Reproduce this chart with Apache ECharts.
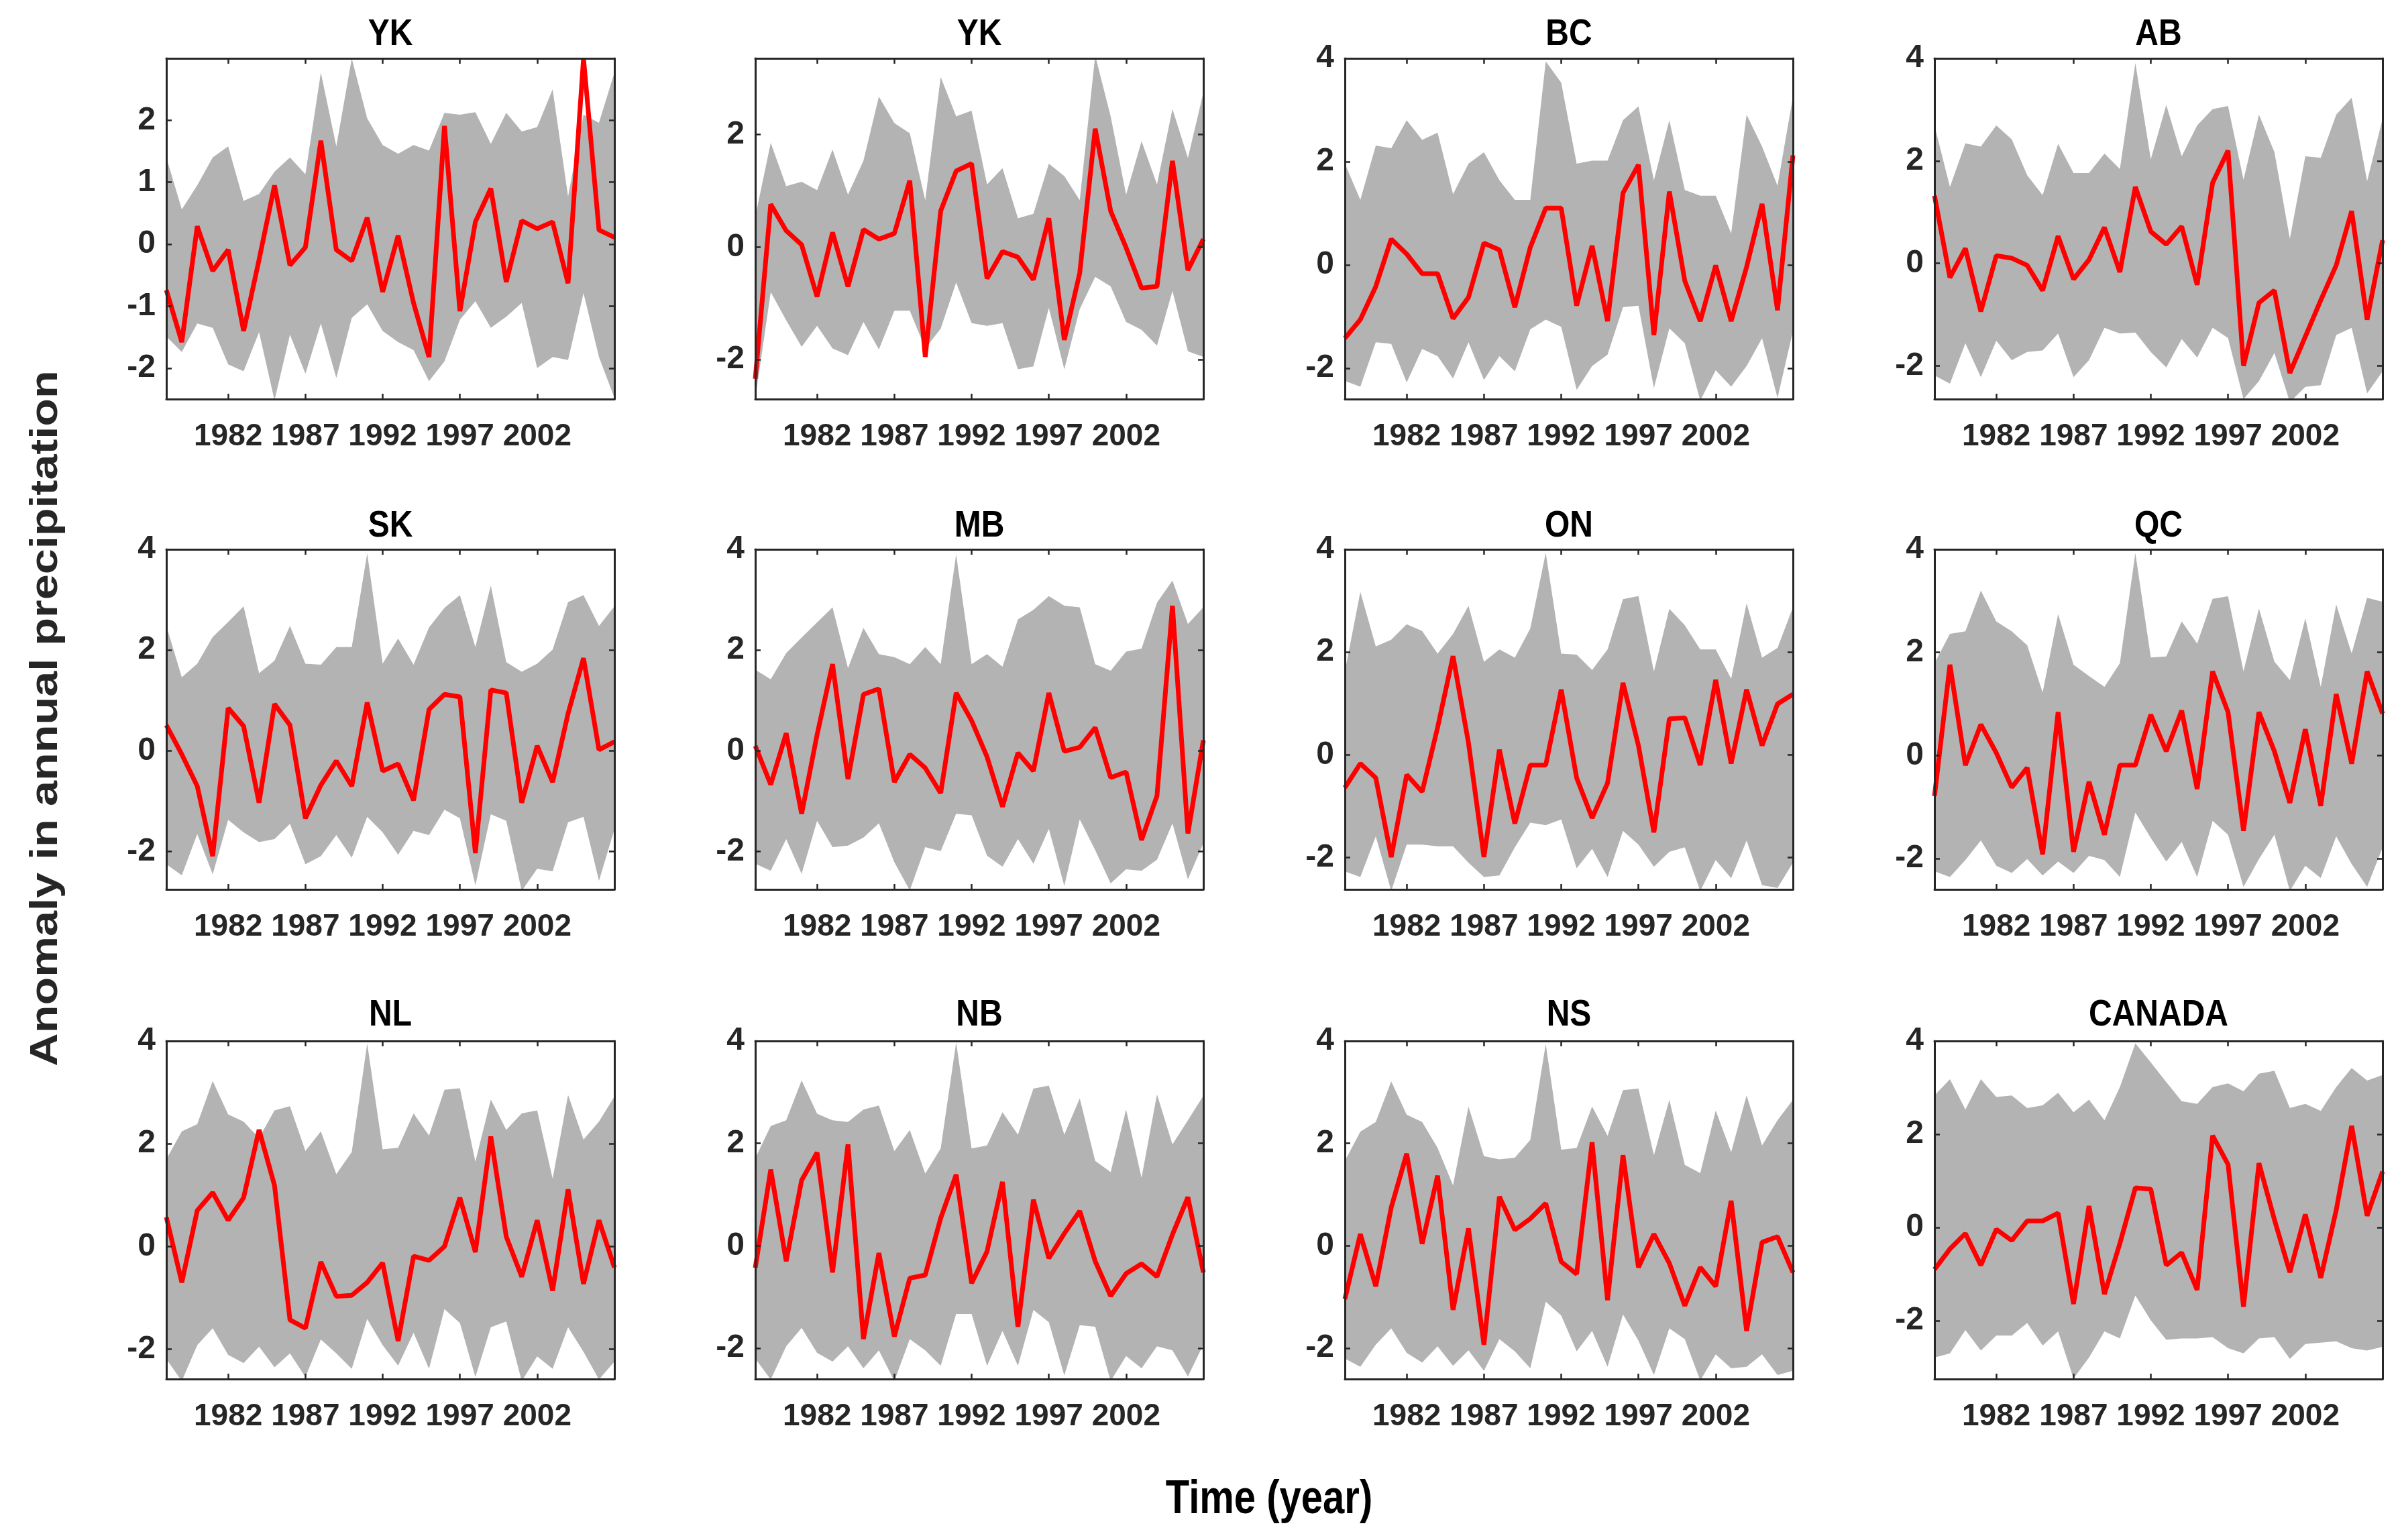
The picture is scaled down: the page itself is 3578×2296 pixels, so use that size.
<!DOCTYPE html>
<html><head><meta charset="utf-8">
<script src="https://cdn.jsdelivr.net/npm/echarts@6/dist/echarts.min.js"></script>
<style>html,body{margin:0;padding:0;background:#fff}#c{width:3578px;height:2296px}</style>
</head><body><div id="c"></div>
<script>
const years = ['1978','1979','1980','1981','1982','1983','1984','1985','1986','1987','1988','1989','1990','1991','1992','1993','1994','1995','1996','1997','1998','1999','2000','2001','2002','2003','2004','2005','2006','2007'];
const xTickLabels = ['1982','1987','1992','1997','2002'];
const panelTitles = ['YK','YK','BC','AB','SK','MB','ON','QC','NL','NB','NS','CANADA'];
const yRanges = [[-2.5,3],[-2.7,3.35],[-2.6,4],[-2.65,4],[-2.75,4],[-2.75,4],[-2.62,4],[-2.6,4],[-2.58,4],[-2.6,4],[-2.6,4],[-3.25,4]];
const yTicks = [[-2,-1,0,1,2],[-2,0,2],[-2,0,2,4],[-2,0,2,4],[-2,0,2,4],[-2,0,2,4],[-2,0,2,4],[-2,0,2,4],[-2,0,2,4],[-2,0,2,4],[-2,0,2,4],[-2,0,2,4]];

const ykMean  = [-0.74,-1.58,0.29,-0.43,-0.09,-1.40,-0.25,0.95,-0.34,-0.05,1.67,-0.09,-0.27,0.43,-0.77,0.14,-0.95,-1.82,1.91,-1.08,0.36,0.90,-0.61,0.38,0.25,0.36,-0.63,3.00,0.23,0.11];
const ykUpper = [1.40,0.56,0.95,1.40,1.58,0.70,0.81,1.17,1.40,1.13,2.77,1.58,3.00,2.03,1.60,1.46,1.60,1.51,2.12,2.09,2.13,1.62,2.12,1.82,1.89,2.50,0.77,2.09,1.96,2.77];
const ykLower = [-1.49,-1.74,-1.28,-1.35,-1.94,-2.05,-1.42,-2.52,-1.46,-2.09,-1.28,-2.16,-1.19,-0.97,-1.40,-1.58,-1.71,-2.21,-1.89,-1.22,-0.92,-1.35,-1.17,-0.95,-2.00,-1.82,-1.87,-0.79,-1.82,-2.48];

const yk2Mean  = [-2.34,0.76,0.29,0.04,-0.88,0.26,-0.70,0.31,0.14,0.24,1.18,-1.95,0.64,1.35,1.48,-0.56,-0.08,-0.18,-0.58,0.51,-1.65,-0.46,2.10,0.64,-0.01,-0.73,-0.70,1.53,-0.41,0.14];
const yk2Upper = [0.54,1.85,1.08,1.16,1.01,1.73,0.93,1.53,2.67,2.20,2.02,0.83,3.02,2.32,2.42,1.11,1.40,0.51,0.59,1.48,1.26,0.83,3.40,2.32,0.93,1.88,1.11,2.45,1.58,2.74];
const yk2Lower = [-2.69,-0.80,-1.30,-1.77,-1.40,-1.80,-1.92,-1.33,-1.82,-1.13,-1.13,-1.80,-1.45,-0.63,-1.35,-1.40,-1.35,-2.17,-2.12,-1.08,-2.17,-1.10,-0.53,-0.70,-1.33,-1.47,-1.75,-0.78,-1.85,-1.95];

const bcMean  = [-1.42,-1.06,-0.42,0.50,0.21,-0.17,-0.17,-1.04,-0.63,0.42,0.29,-0.82,0.34,1.10,1.10,-0.79,0.37,-1.09,1.39,1.94,-1.36,1.42,-0.31,-1.09,-0.01,-1.09,-0.04,1.18,-0.88,2.12];
const bcUpper = [1.96,1.26,2.31,2.26,2.80,2.42,2.56,1.37,1.96,2.18,1.64,1.26,1.26,3.94,3.53,1.96,2.02,2.02,2.80,3.07,1.64,2.80,1.45,1.34,1.34,0.61,2.91,2.29,1.53,3.26];
const bcLower = [-2.25,-2.36,-1.50,-1.53,-2.28,-1.63,-1.77,-2.20,-1.50,-2.23,-1.77,-2.06,-1.25,-1.06,-1.20,-2.42,-1.96,-1.74,-0.82,-0.79,-2.39,-1.23,-1.52,-2.63,-2.04,-2.36,-1.96,-1.42,-2.58,-1.28];

const abMean  = [1.32,-0.28,0.29,-0.94,0.15,0.10,-0.04,-0.53,0.53,-0.31,0.07,0.70,-0.17,1.49,0.62,0.37,0.72,-0.42,1.57,2.20,-2.00,-0.77,-0.53,-2.14,-1.43,-0.72,-0.04,1.02,-1.10,0.45];
const abUpper = [2.69,1.49,2.34,2.28,2.69,2.42,1.72,1.33,2.33,1.76,1.76,2.14,1.84,3.91,2.03,3.09,2.09,2.69,3.01,3.07,1.63,2.90,2.17,0.48,2.09,2.06,2.90,3.23,1.60,2.82];
const abLower = [-2.19,-2.35,-1.56,-2.22,-1.51,-1.89,-1.73,-1.70,-1.37,-2.22,-1.89,-1.26,-1.37,-1.35,-1.73,-2.03,-1.48,-1.84,-1.26,-1.46,-2.65,-2.30,-1.75,-2.71,-2.41,-2.38,-1.40,-1.26,-2.54,-2.11];

const skMean  = [0.51,-0.07,-0.70,-2.09,0.85,0.49,-1.03,0.93,0.51,-1.34,-0.68,-0.20,-0.70,0.96,-0.40,-0.26,-0.98,0.82,1.12,1.07,-2.03,1.21,1.15,-1.03,0.10,-0.62,0.74,1.84,0.02,0.18];
const skUpper = [2.48,1.46,1.73,2.26,2.56,2.87,1.54,1.79,2.48,1.73,1.71,2.06,2.06,3.92,1.73,2.23,1.71,2.45,2.84,3.09,2.06,3.28,1.76,1.57,1.73,2.01,2.95,3.09,2.48,2.87];
const skLower = [-2.25,-2.47,-1.65,-2.45,-1.37,-1.62,-1.81,-1.75,-1.45,-2.25,-2.09,-1.67,-2.12,-1.31,-1.62,-2.06,-1.59,-1.67,-1.17,-1.34,-2.67,-1.26,-1.39,-2.78,-2.34,-2.39,-1.42,-1.31,-2.58,-1.56];

const mbMean  = [0.10,-0.67,0.35,-1.25,0.32,1.72,-0.56,1.12,1.23,-0.62,-0.07,-0.34,-0.84,1.15,0.60,-0.12,-1.11,-0.04,-0.40,1.15,-0.01,0.07,0.46,-0.53,-0.42,-1.77,-0.89,2.88,-1.64,0.21];
const mbUpper = [1.61,1.42,1.94,2.25,2.55,2.85,1.64,2.44,1.92,1.86,1.72,2.06,1.72,3.90,1.72,1.92,1.67,2.61,2.80,3.07,2.88,2.85,1.72,1.59,1.97,2.03,2.94,3.38,2.52,2.85];
const mbLower = [-2.24,-2.38,-1.75,-2.44,-1.39,-1.91,-1.88,-1.72,-1.44,-2.21,-2.77,-1.91,-1.99,-1.25,-1.28,-2.08,-2.30,-1.75,-2.24,-1.55,-2.68,-1.36,-1.97,-2.63,-2.35,-2.38,-2.16,-1.44,-2.55,-1.83];

const onMean  = [-0.64,-0.17,-0.45,-1.99,-0.39,-0.72,0.53,1.92,0.23,-1.99,0.10,-1.34,-0.20,-0.20,1.27,-0.45,-1.23,-0.55,1.40,0.18,-1.51,0.70,0.72,-0.20,1.46,-0.17,1.27,0.18,0.99,1.18];
const onUpper = [1.62,3.17,2.11,2.24,2.54,2.41,1.97,2.35,2.90,1.81,2.05,1.89,2.46,3.93,1.97,1.95,1.65,2.05,3.03,3.09,1.62,2.84,2.52,2.05,2.05,1.48,2.95,1.89,2.08,2.87];
const onLower = [-2.27,-2.38,-1.59,-2.65,-1.75,-1.75,-1.78,-1.78,-2.10,-2.38,-2.35,-1.80,-1.32,-1.37,-1.26,-2.21,-1.83,-2.38,-1.48,-1.75,-2.18,-1.89,-1.80,-2.65,-2.05,-2.40,-1.67,-2.54,-2.59,-2.10];

const qcMean  = [-0.79,1.76,-0.19,0.60,0.05,-0.62,-0.24,-1.92,0.84,-1.87,-0.51,-1.54,-0.19,-0.19,0.79,0.08,0.87,-0.65,1.63,0.84,-1.46,0.84,0.08,-0.92,0.51,-0.98,1.19,-0.16,1.63,0.81];
const qcUpper = [1.79,2.36,2.41,3.20,2.60,2.41,2.14,1.22,2.74,1.76,1.54,1.33,1.79,3.93,1.90,1.92,2.60,2.17,3.04,3.09,1.63,2.85,1.82,1.46,2.66,1.33,2.93,1.98,3.06,2.98];
const qcLower = [-2.25,-2.36,-2.03,-1.65,-2.14,-2.28,-2.01,-2.33,-2.06,-2.28,-1.95,-2.03,-2.36,-1.11,-1.60,-2.06,-1.68,-2.36,-1.27,-1.54,-2.55,-2.01,-1.54,-2.63,-2.14,-2.38,-1.57,-2.11,-2.55,-1.79];

const nlMean  = [0.57,-0.70,0.70,1.05,0.51,0.95,2.27,1.19,-1.43,-1.59,-0.30,-0.97,-0.95,-0.70,-0.32,-1.84,-0.19,-0.27,0.00,0.95,-0.11,2.14,0.19,-0.59,0.51,-0.86,1.11,-0.73,0.51,-0.41];
const nlUpper = [1.70,2.24,2.38,3.22,2.57,2.43,2.11,2.65,2.73,1.86,2.24,1.41,1.84,3.95,1.89,1.92,2.59,2.16,3.05,3.08,1.65,2.86,2.27,2.59,2.65,1.32,2.95,2.08,2.43,2.92];
const nlLower = [-2.19,-2.62,-1.92,-1.59,-2.11,-2.27,-1.95,-2.35,-2.08,-2.54,-1.81,-2.08,-2.38,-1.41,-1.92,-2.32,-1.68,-2.38,-1.22,-1.49,-2.54,-1.57,-1.46,-2.62,-2.14,-2.38,-1.57,-2.05,-2.59,-2.24];

const nbMean  = [-0.43,1.49,-0.30,1.28,1.82,-0.52,1.98,-1.82,-0.14,-1.77,-0.63,-0.57,0.54,1.39,-0.73,-0.11,1.25,-1.58,0.90,-0.24,0.24,0.68,-0.30,-0.98,-0.54,-0.35,-0.60,0.22,0.95,-0.52];
const nbUpper = [1.71,2.34,2.45,3.23,2.58,2.45,2.42,2.66,2.74,1.85,2.26,1.41,1.90,3.97,1.90,1.96,2.61,2.17,3.07,3.13,2.17,2.88,1.66,1.44,2.66,1.33,2.96,1.98,2.45,2.93];
const nbLower = [-2.20,-2.61,-1.96,-1.60,-2.09,-2.26,-1.96,-2.39,-2.04,-2.64,-1.82,-2.04,-2.34,-1.33,-1.33,-2.34,-1.66,-2.34,-1.25,-1.49,-2.53,-1.55,-1.58,-2.64,-2.15,-2.39,-1.96,-2.04,-2.55,-1.93];

const nsMean  = [-1.04,0.23,-0.79,0.75,1.80,0.04,1.37,-1.25,0.34,-1.93,0.96,0.31,0.53,0.83,-0.31,-0.55,2.02,-1.06,1.77,-0.42,0.23,-0.34,-1.17,-0.42,-0.79,0.88,-1.66,0.07,0.18,-0.52];
const nsUpper = [1.66,2.23,2.42,3.21,2.56,2.42,1.91,1.18,2.72,1.75,1.69,1.72,2.07,3.94,1.88,1.91,2.72,2.15,3.04,3.07,1.77,2.85,1.58,1.42,2.64,1.83,2.94,1.96,2.45,2.85];
const nsLower = [-2.20,-2.36,-1.93,-1.61,-2.09,-2.28,-1.96,-2.34,-2.04,-2.44,-1.82,-2.06,-2.39,-1.09,-1.36,-2.06,-1.66,-2.36,-1.34,-1.85,-2.52,-1.61,-1.82,-2.63,-2.12,-2.39,-2.36,-2.12,-2.52,-2.44];

const caMean  = [-0.90,-0.46,-0.13,-0.81,-0.04,-0.28,0.14,0.14,0.31,-1.64,0.46,-1.43,-0.34,0.85,0.82,-0.81,-0.54,-1.34,1.97,1.35,-1.70,1.38,0.17,-0.96,0.28,-1.08,0.37,2.18,0.25,1.20];
const caUpper = [2.83,3.18,2.53,3.18,2.80,2.83,2.56,2.62,2.89,2.47,2.74,2.30,3.01,3.95,3.54,3.12,2.71,2.65,3.01,3.09,2.92,3.30,3.36,2.56,2.65,2.50,3.01,3.42,3.15,3.27];
const caLower = [-2.79,-2.70,-2.20,-2.64,-2.32,-2.32,-2.05,-2.53,-2.23,-3.24,-2.79,-2.23,-2.38,-1.46,-1.99,-2.41,-2.38,-2.38,-2.35,-2.59,-2.70,-2.38,-2.35,-2.82,-2.50,-2.47,-2.44,-2.59,-2.64,-2.56];

const means  = [ykMean,yk2Mean,bcMean,abMean,skMean,mbMean,onMean,qcMean,nlMean,nbMean,nsMean,caMean];
const uppers = [ykUpper,yk2Upper,bcUpper,abUpper,skUpper,mbUpper,onUpper,qcUpper,nlUpper,nbUpper,nsUpper,caUpper];
const lowers = [ykLower,yk2Lower,bcLower,abLower,skLower,mbLower,onLower,qcLower,nlLower,nbLower,nsLower,caLower];

const colLeft = [248, 1126, 2005, 2884];
const rowTop = [87, 819, 1552];
const rowH = [508, 507, 504];
const titleY = [52, 785, 1514];
const W = 668;
const FONT = '"Liberation Sans",Arial,Helvetica,sans-serif';
const INK = '#262626';

const grids = [], xAxes = [], yAxes = [], series = [], graphics = [];
const tickFn = (i, v) => xTickLabels.indexOf(v) >= 0;
for (let p = 0; p < 12; p++) {
  const r = Math.floor(p / 4), c = p % 4;
  grids.push({left: colLeft[c], top: rowTop[r], width: W, height: rowH[r], containLabel: false});
  const common = {type: 'category', data: years, boundaryGap: false, gridIndex: p, z: 10,
    axisLine: {show: true, onZero: false, lineStyle: {color: INK, width: 3}},
    axisTick: {show: true, inside: true, length: 8, interval: tickFn, lineStyle: {color: INK, width: 2.5}},
    splitLine: {show: false}};
  xAxes.push(Object.assign({}, common, {position: 'bottom',
    axisLabel: {show: true, interval: tickFn, margin: 33, color: INK, fontWeight: 'bold', fontSize: 46, fontFamily: FONT}}));
  xAxes.push(Object.assign({}, common, {position: 'top', axisLabel: {show: false}}));
  const yc = {type: 'value', gridIndex: p, min: yRanges[p][0], max: yRanges[p][1], z: 10,
    axisLine: {show: true, onZero: false, lineStyle: {color: INK, width: 3}},
    axisTick: {show: true, inside: true, length: 8, customValues: yTicks[p], lineStyle: {color: INK, width: 2.5}},
    splitLine: {show: false}};
  yAxes.push(Object.assign({}, yc, {position: 'left',
    axisLabel: {show: true, customValues: yTicks[p], margin: 16, color: INK, fontWeight: 'bold', fontSize: 48, fontFamily: FONT}}));
  yAxes.push(Object.assign({}, yc, {position: 'right', axisLabel: {show: false}}));
  const band = uppers[p].map((u, i) => +(u - lowers[p][i]).toFixed(3));
  series.push({type: 'line', xAxisIndex: 2 * p, yAxisIndex: 2 * p, data: lowers[p], stack: 'band' + p, stackStrategy: 'all',
    symbol: 'none', lineStyle: {opacity: 0}, silent: true, z: 1});
  series.push({type: 'line', xAxisIndex: 2 * p, yAxisIndex: 2 * p, data: band, stack: 'band' + p, stackStrategy: 'all',
    symbol: 'none', lineStyle: {width: 0, opacity: 0}, areaStyle: {color: '#b3b3b3', opacity: 1}, silent: true, z: 1});
  series.push({type: 'line', xAxisIndex: 2 * p, yAxisIndex: 2 * p, data: means[p], symbol: 'none',
    lineStyle: {color: '#ff0000', width: 7}, z: 5});
  graphics.push({type: 'text', x: colLeft[c] + W / 2, y: titleY[r], scaleY: 1.15,
    style: {text: panelTitles[p], fill: '#000', font: 'bold 48px ' + FONT, align: 'center', verticalAlign: 'middle'}});
}
graphics.push({type: 'text', x: 69, y: 1071, rotation: Math.PI / 2, scaleX: 1.2,
  style: {text: 'Anomaly in annual precipitation', fill: INK, font: 'bold 57px ' + FONT, align: 'center', verticalAlign: 'middle'}});
graphics.push({type: 'text', x: 1892, y: 2237, scaleY: 1.2,
  style: {text: 'Time (year)', fill: '#000', font: 'bold 58px ' + FONT, align: 'center', verticalAlign: 'middle'}});

const chart = echarts.init(document.getElementById('c'), null, {renderer: 'canvas'});
chart.setOption({
  animation: false,
  backgroundColor: '#fff',
  grid: grids, xAxis: xAxes, yAxis: yAxes, series: series,
  graphic: graphics
});
</script></body></html>
